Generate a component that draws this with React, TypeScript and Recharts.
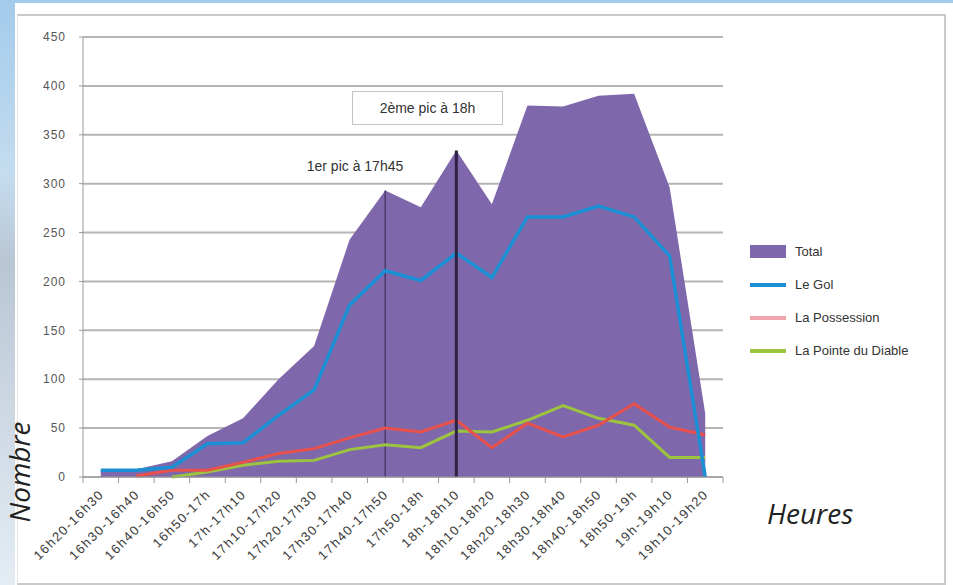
import {
  ComposedChart,
  Area,
  Line,
  XAxis,
  YAxis,
  CartesianGrid,
  ReferenceLine,
} from 'recharts';

const categories = [
  '16h20-16h30', '16h30-16h40', '16h40-16h50', '16h50-17h', '17h-17h10', '17h10-17h20',
  '17h20-17h30', '17h30-17h40', '17h40-17h50', '17h50-18h', '18h-18h10', '18h10-18h20',
  '18h20-18h30', '18h30-18h40', '18h40-18h50', '18h50-19h', '19h-19h10', '19h10-19h20',
];

const totalValues = [8, 8, 16, 42, 60, 100, 134, 243, 293, 276, 334, 279, 380, 379, 390, 392, 296, 65];
const leGolValues = [7, 7, 10, 34, 35, 63, 89, 176, 211, 201, 229, 204, 266, 266, 277, 266, 226, 0];
const laPossessionValues = [null, 1, 7, 7, 15, 24, 29, 40, 50, 46, 58, 30, 55, 41, 53, 75, 51, 43];
const laPointeValues = [null, null, 0, 5, 12, 16, 17, 28, 33, 30, 47, 46, 58, 73, 60, 53, 20, 20];

const yTicks = [0, 50, 100, 150, 200, 250, 300, 350, 400, 450];

const firstPeak = '17h40-17h50';
const secondPeak = '18h-18h10';

const data = categories.map((c, i) => ({
  name: c,
  total: totalValues[i],
  leGol: leGolValues[i],
  laPossession: laPossessionValues[i],
  laPointe: laPointeValues[i],
}));

const PURPLE = '#7f67ab';
const BLUE = '#1b8fd3';
const RED = '#e8514b';
const GREEN = '#9cc43f';

const PLOT_LEFT = 83;
const PLOT_RIGHT = 723;
const PLOT_W = PLOT_RIGHT - PLOT_LEFT;

const legendItems = [
  { label: 'Total', color: PURPLE, kind: 'rect' },
  { label: 'Le Gol', color: BLUE, kind: 'line' },
  { label: 'La Possession', color: '#f2a4ad', kind: 'line' },
  { label: 'La Pointe du Diable', color: GREEN, kind: 'line' },
];

function XTick(props: any) {
  const { x, y, payload, index } = props;
  const bw = PLOT_W / categories.length;
  const tx = x + 4;
  const ty = y + 18;
  return (
    <g>
      <line x1={x - bw / 2} x2={x - bw / 2} y1={y} y2={y + 6} stroke="#9a9a9a" />
      {index === categories.length - 1 && (
        <line x1={x + bw / 2} x2={x + bw / 2} y1={y} y2={y + 6} stroke="#9a9a9a" />
      )}
      <text
        x={tx}
        y={ty}
        transform={`rotate(-45 ${tx} ${ty})`}
        textAnchor="end"
        fontSize={13}
        letterSpacing={1.5}
        fill="#3a3a3a"
        fontFamily="Liberation Sans"
      >
        {payload.value}
      </text>
    </g>
  );
}

function LegendBox() {
  return (
    <div
      style={{
        position: 'absolute',
        left: 750,
        top: 235,
        fontFamily: 'Liberation Sans',
        fontSize: 13,
        color: '#333',
      }}
    >
      {legendItems.map((it) => (
        <div key={it.label} style={{ display: 'flex', alignItems: 'center', height: 33 }}>
          {it.kind === 'rect' ? (
            <span style={{ width: 36, height: 13, background: it.color, display: 'inline-block' }} />
          ) : (
            <span style={{ width: 36, height: 4, background: it.color, display: 'inline-block' }} />
          )}
          <span style={{ marginLeft: 9 }}>{it.label}</span>
        </div>
      ))}
    </div>
  );
}

export default function App() {
  return (
    <div
      style={{
        position: 'fixed',
        left: 0,
        top: 0,
        width: 953,
        height: 585,
        overflow: 'hidden',
        background: 'linear-gradient(180deg, #a3cbeb 0%, #c4dcef 30%, #b9c6d4 45%, #e4edf4 100%)',
      }}
    >
      <div
        style={{
          position: 'absolute',
          left: 15,
          top: 3,
          width: 938,
          height: 582,
          background: '#fff',
        }}
      />
      <div
        style={{
          position: 'absolute',
          left: 17,
          top: 14,
          width: 926,
          height: 567,
          border: '2px solid #c9c9c9',
          borderLeft: '1px solid #e2e2e2',
        }}
      />
      <div style={{ position: 'absolute', left: 0, top: 0 }}>
        <ComposedChart
          width={953}
          height={585}
          data={data}
          margin={{ top: 37, right: 953 - PLOT_RIGHT, bottom: 8, left: 0 }}
        >
          <CartesianGrid horizontal vertical={false} stroke="#b5b5b5" strokeWidth={2} />
          <XAxis
            dataKey="name"
            scale="band"
            interval={0}
            height={100}
            tickLine={false}
            tickSize={0}
            tickMargin={0}
            stroke="#9a9a9a"
            tick={<XTick />}
          />
          <YAxis
            width={PLOT_LEFT}
            domain={[0, 450]}
            ticks={yTicks}
            tickSize={4}
            tickMargin={13}
            stroke="#9a9a9a"
            tick={{ fontSize: 12, fill: '#555', fontFamily: 'Liberation Sans', letterSpacing: 1 }}
          />
          <Area
            type="linear"
            dataKey="total"
            fill={PURPLE}
            fillOpacity={1}
            stroke="none"
            isAnimationActive={false}
          />
          <ReferenceLine
            segment={[
              { x: firstPeak, y: 0 },
              { x: firstPeak, y: totalValues[categories.indexOf(firstPeak)] },
            ]}
            stroke="#4b3b6b"
            strokeWidth={1.5}
          />
          <Line
            type="linear"
            dataKey="laPointe"
            stroke={GREEN}
            strokeWidth={3}
            dot={false}
            isAnimationActive={false}
          />
          <Line
            type="linear"
            dataKey="laPossession"
            stroke={RED}
            strokeWidth={3}
            dot={false}
            isAnimationActive={false}
          />
          <Line
            type="linear"
            dataKey="leGol"
            stroke={BLUE}
            strokeWidth={3.5}
            dot={false}
            isAnimationActive={false}
          />
          <ReferenceLine
            segment={[
              { x: secondPeak, y: 0 },
              { x: secondPeak, y: totalValues[categories.indexOf(secondPeak)] },
            ]}
            stroke="#2e2242"
            strokeWidth={3}
          />
        </ComposedChart>
      </div>
      <LegendBox />
      <div
        style={{
          position: 'absolute',
          left: 352,
          top: 91,
          width: 149,
          height: 32,
          border: '1px solid #c4c4c4',
          background: '#fff',
          display: 'flex',
          alignItems: 'center',
          justifyContent: 'center',
          fontFamily: 'Liberation Sans',
          fontSize: 14,
          color: '#333',
        }}
      >
        2ème pic à 18h
      </div>
      <div
        style={{
          position: 'absolute',
          left: 290,
          top: 158,
          width: 130,
          textAlign: 'center',
          fontFamily: 'Liberation Sans',
          fontSize: 14,
          color: '#333',
        }}
      >
        1er pic à 17h45
      </div>
      <div
        style={{
          position: 'absolute',
          left: 19,
          top: 472,
          transform: 'translate(-50%, -50%) rotate(-90deg)',
          fontFamily: 'Open Sans',
          fontStyle: 'italic',
          fontSize: 28,
          color: '#222',
          whiteSpace: 'nowrap',
        }}
      >
        Nombre
      </div>
      <div
        style={{
          position: 'absolute',
          left: 767,
          top: 494,
          fontFamily: 'Open Sans',
          fontStyle: 'italic',
          fontSize: 28,
          color: '#222',
        }}
      >
        Heures
      </div>
    </div>
  );
}
